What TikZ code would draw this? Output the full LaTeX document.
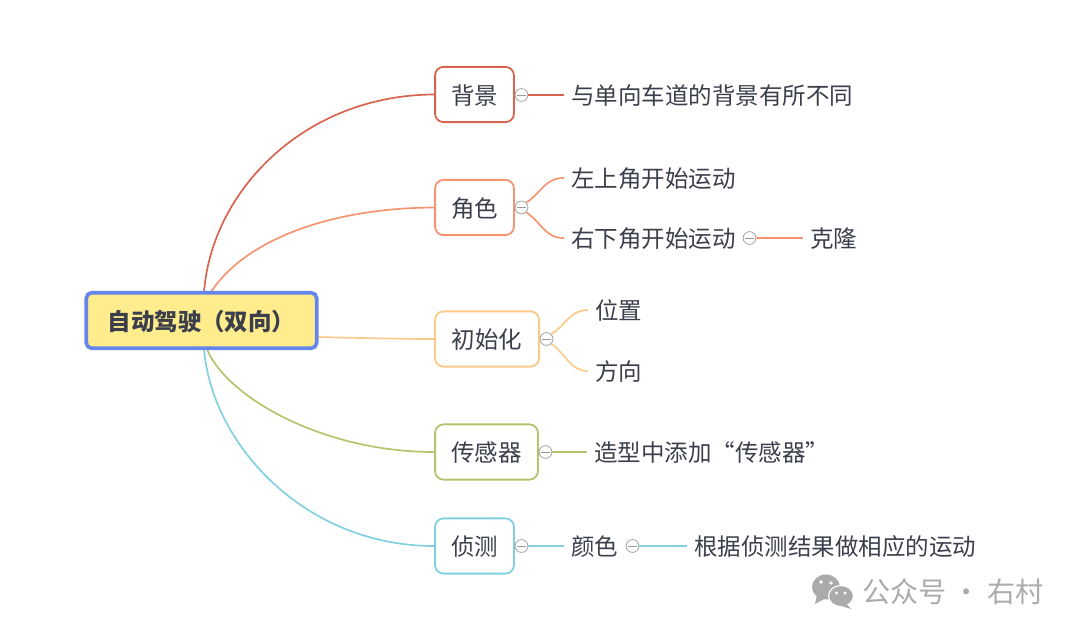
\documentclass[tikz,border=0pt]{standalone}
\usepackage{fontspec}
\usepackage{xcolor}
\setmainfont{Noto Sans CJK SC}
\usetikzlibrary{positioning}
\definecolor{textDark}{HTML}{3A3F4B}
\definecolor{bgRed}{HTML}{D8644F}
\definecolor{roleOrange}{HTML}{F69471}
\definecolor{initYellow}{HTML}{FBC98A}
\definecolor{sensGreen}{HTML}{B4C46C}
\definecolor{detectBlue}{HTML}{82D0E0}
\definecolor{rootBlue}{HTML}{6485EA}
\definecolor{rootFill}{HTML}{FFEC8C}
\definecolor{markGray}{HTML}{ABABAB}

\begin{document}
\begin{tikzpicture}[
    x=0.025cm, y=-0.025cm,
    font=\fontsize{16.7pt}{20pt}\selectfont,
    rootBox/.style={
        rectangle, rounded corners=4pt, draw=rootBlue, line width=2.6pt,
        fill=rootFill, minimum width=5.76cm, minimum height=1.39cm, inner sep=0pt,
        text=textDark, text height=16pt, text depth=2pt,
        font=\fontsize{16.7pt}{20pt}\selectfont\bfseries
    },
    topic/.style={
        rectangle, rounded corners=6pt, line width=1.3pt, fill=white, text=textDark,
        minimum height=1.38cm, inner sep=0pt, text height=16pt, text depth=2pt
    },
    leaf/.style={text=textDark, inner sep=0pt, anchor=west, text height=16pt, text depth=2pt},
    fold/.style={
        circle, draw=gray!70, fill=white, line width=0.6pt, minimum size=0.32cm, inner sep=0pt,
        path picture={\draw[gray!80, line width=0.5pt] ([xshift=-1.2mm]path picture bounding box.center) -- ([xshift=1.2mm]path picture bounding box.center);}
    },
    branch/.style={line width=1.2pt},
    bubble/.style={fill=markGray, draw=white, line width=0.8pt},
    eyeDot/.style={fill=white, draw=none}
]
\useasboundingbox (0,0) rectangle (1080,634);

% Root anchors for the branches
\coordinate (rootNa) at (204,292);
\coordinate (rootNb) at (211,292);
\coordinate (rootE) at (318,337);
\coordinate (rootSa) at (204,349);
\coordinate (rootSb) at (207,349);

% Level 1: topics
\node[topic, draw=bgRed, minimum width=1.97cm] (bg) at (474.5,94.5) {背景};
\node[topic, draw=roleOrange, minimum width=1.97cm] (role) at (474.5,207.5) {角色};
\node[topic, draw=initYellow, minimum width=2.6cm] (init) at (487,339) {初始化};
\node[topic, draw=sensGreen, minimum width=2.57cm] (sens) at (486.5,452) {传感器};
\node[topic, draw=detectBlue, minimum width=1.97cm] (detect) at (474.5,546) {侦测};

% Branches from root
\draw[branch, draw=bgRed] (rootNa) .. controls (212,190) and (305,95) .. (bg.west);
\draw[branch, draw=roleOrange] (rootNb) .. controls (245,240) and (330,208) .. (role.west);
\draw[branch, draw=initYellow] (rootE) .. controls (360,338) and (400,339) .. (init.west);
\draw[branch, draw=sensGreen] (rootSb) .. controls (225,395) and (320,452) .. (sens.west);
\draw[branch, draw=detectBlue] (rootSa) .. controls (212,445) and (305,546) .. (detect.west);

% Root on top of its branches
\node[rootBox] (root) at (201.5,320.5) {自动驾驶（双向）};

% Fold markers
\node[fold] (foldBg) at (521.5,95) {};
\node[fold] (foldRole) at (521.5,207.5) {};
\node[fold] (foldInit) at (546.5,339) {};
\node[fold] (foldSens) at (545.5,452) {};
\node[fold] (foldDetect) at (521.5,546) {};

% Level 2: leaves
\node[leaf] (bgText) at (571,95) {与单向车道的背景有所不同};
\node[leaf] (roleA) at (571,178) {左上角开始运动};
\node[leaf] (roleB) at (571,238) {右下角开始运动};
\node[fold] (foldRoleB) at (749.5,238) {};
\node[leaf] (clone) at (810,238) {克隆};
\node[leaf] (pos) at (595,310) {位置};
\node[leaf] (dir) at (595,371) {方向};
\node[leaf] (sensText) at (594,452) {造型中添加“传感器”};
\node[leaf] (color) at (571,546) {颜色};
\node[fold] (foldColor) at (632.5,546) {};
\node[leaf] (colorText) at (694,546) {根据侦测结果做相应的运动};

% Branches to leaves
\draw[branch, draw=bgRed] (foldBg.east) -- ([xshift=-0.18cm]bgText.west);
\draw[branch, draw=roleOrange] (foldRole.north east) .. controls (542,192) and (545,178) .. ([xshift=-0.18cm]roleA.west);
\draw[branch, draw=roleOrange] (foldRole.south east) .. controls (542,223) and (545,238) .. ([xshift=-0.18cm]roleB.west);
\draw[branch, draw=roleOrange] (foldRoleB.east) -- ([xshift=-0.18cm]clone.west);
\draw[branch, draw=initYellow] (foldInit.north east) .. controls (566,325) and (570,310) .. ([xshift=-0.18cm]pos.west);
\draw[branch, draw=initYellow] (foldInit.south east) .. controls (566,354) and (570,371) .. ([xshift=-0.18cm]dir.west);
\draw[branch, draw=sensGreen] (foldSens.east) -- ([xshift=-0.18cm]sensText.west);
\draw[branch, draw=detectBlue] (foldDetect.east) -- ([xshift=-0.18cm]color.west);
\draw[branch, draw=detectBlue] (foldColor.east) -- ([xshift=-0.18cm]colorText.west);

% Watermark
\fill[markGray] (826,587) ellipse (14 and 12.5);
\fill[markGray] (817,595) -- (815,604) -- (826,598) -- cycle;
\fill[eyeDot] (821,582) circle (1.9);
\fill[eyeDot] (831,583) circle (1.9);
\draw[bubble] (841,596) ellipse (12.5 and 10.5);
\fill[markGray] (846,603) -- (851,609) -- (838,605) -- cycle;
\fill[eyeDot] (836.5,593) circle (1.6);
\fill[eyeDot] (845,593) circle (1.6);
\node[text=markGray, anchor=west, inner sep=0pt, font=\fontsize{20pt}{24pt}\selectfont] (mark) at (862,592) {公众号 · 右村};
\end{tikzpicture}
\end{document}
